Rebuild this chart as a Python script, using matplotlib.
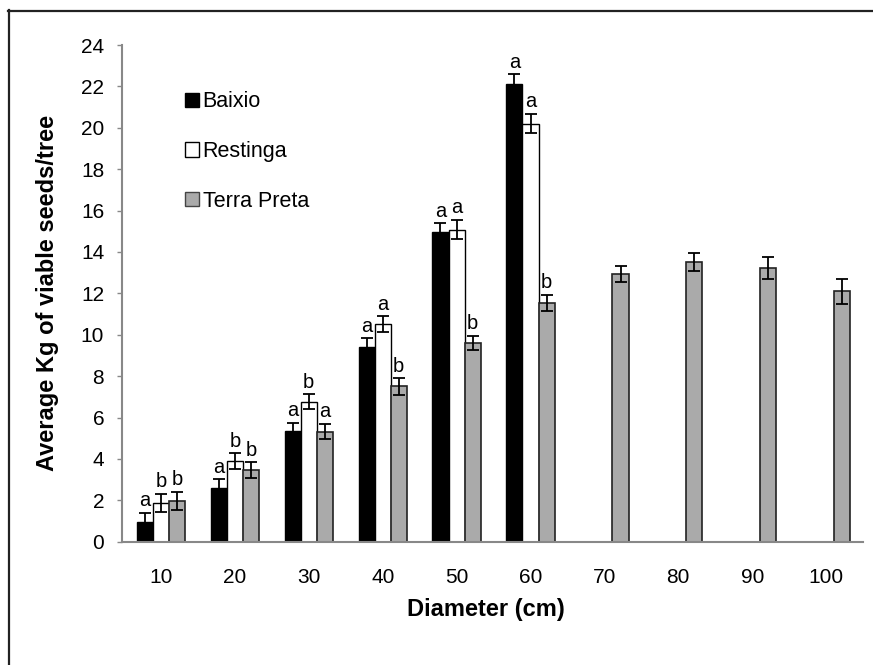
import matplotlib
matplotlib.use("Agg")
import matplotlib.pyplot as plt
import numpy as np
from matplotlib.lines import Line2D
from matplotlib.patches import Patch

plt.rcParams['font.family'] = ['Liberation Sans', 'DejaVu Sans']

categories = ['10', '20', '30', '40', '50', '60', '70', '80', '90', '100']
baixio = [0.95, 2.6, 5.33, 9.4, 14.95, 22.1]
baixio_err = [0.45, 0.43, 0.42, 0.44, 0.45, 0.48]
restinga = [1.87, 3.9, 6.77, 10.5, 15.08, 20.2]
restinga_err = [0.45, 0.38, 0.36, 0.39, 0.47, 0.47]
terra = [1.97, 3.45, 5.32, 7.5, 9.6, 11.55, 12.92, 13.52, 13.22, 12.1]
terra_err = [0.45, 0.38, 0.38, 0.39, 0.36, 0.38, 0.38, 0.45, 0.55, 0.6]
baixio_letters = ['a', 'a', 'a', 'a', 'a', 'a']
restinga_letters = ['b', 'b', 'b', 'a', 'a', 'a']
terra_letters = ['b', 'b', 'a', 'b', 'b', 'b']

W, H = 873, 665
L, R, B, T = 121.7, 863, 541.7, 45
fig = plt.figure(figsize=(W / 100, H / 100), dpi=100)
ax = fig.add_axes([L / W, 1 - B / H, (R - L) / W, (B - T) / H])

x = np.arange(len(categories))
bw = 0.218
ekw = dict(ecolor='black', elinewidth=1.3, capsize=4, capthick=1.3)

xb = x[:len(baixio)] - bw
xr = x[:len(restinga)]
xt = x[:len(terra)] + bw
ax.bar(xb, baixio, bw, color='black', edgecolor='black', linewidth=1,
       yerr=baixio_err, error_kw=ekw, label='Baixio')
ax.bar(xr, restinga, bw, color='white', edgecolor='black', linewidth=1,
       yerr=restinga_err, error_kw=ekw, label='Restinga')
ax.bar(xt, terra, bw, color='#aaaaaa', edgecolor='#222222', linewidth=1.2,
       yerr=terra_err, error_kw=ekw, label='Terra Preta')

for xs, vals, errs, lets in [(xb, baixio, baixio_err, baixio_letters),
                             (xr, restinga, restinga_err, restinga_letters),
                             (xt, terra, terra_err, terra_letters)]:
    for xi, v, e, l in zip(xs, vals, errs, lets):
        ax.text(xi, v + e + 0.12, l, ha='center', va='bottom', fontsize=14.5)

ax.set_xlim((L - 161) / 73.9, (R - 161) / 73.9)
ax.set_ylim(0, 24)
ax.set_yticks(np.arange(0, 25, 2))
ax.set_xticks(x)
ax.set_xticklabels(categories)
for s in ['top', 'right']:
    ax.spines[s].set_visible(False)
for s in ['left', 'bottom']:
    ax.spines[s].set_color('#888888')
    ax.spines[s].set_linewidth(1.5)
ax.tick_params(axis='y', direction='out', length=3.6, width=1, color='#888888',
               labelsize=15, pad=9)
ax.tick_params(axis='x', length=0, labelsize=15, pad=19)

ax.set_ylabel('Average Kg of viable seeds/tree', fontsize=17, fontweight='bold')
ax.yaxis.set_label_coords((59 - L) / (R - L), 0.5)
ax.set_xlabel('Diameter (cm)', fontsize=17, fontweight='bold')
ax.xaxis.set_label_coords((486 - L) / (R - L), (B - 598) / (B - T))

handles = [Patch(facecolor='black', edgecolor='black'),
           Patch(facecolor='white', edgecolor='black'),
           Patch(facecolor='#aaaaaa', edgecolor='#444444')]
ax.legend(handles, ['Baixio', 'Restinga', 'Terra Preta'], loc='upper left',
          bbox_to_anchor=(166 / W, 1 - 72 / H), bbox_transform=fig.transFigure,
          frameon=False, fontsize=15.5, handlelength=0.65, handleheight=0.65,
          handletextpad=0.15, labelspacing=1.33)

fig.add_artist(Line2D([8.5 / W, 8.5 / W], [0, 1 - 10 / H], color='#222222',
                      lw=1.6, transform=fig.transFigure))
fig.add_artist(Line2D([8 / W, 1], [1 - 10.5 / H, 1 - 10.5 / H], color='#222222',
                      lw=1.6, transform=fig.transFigure))

fig.savefig('out.png', dpi=100)
